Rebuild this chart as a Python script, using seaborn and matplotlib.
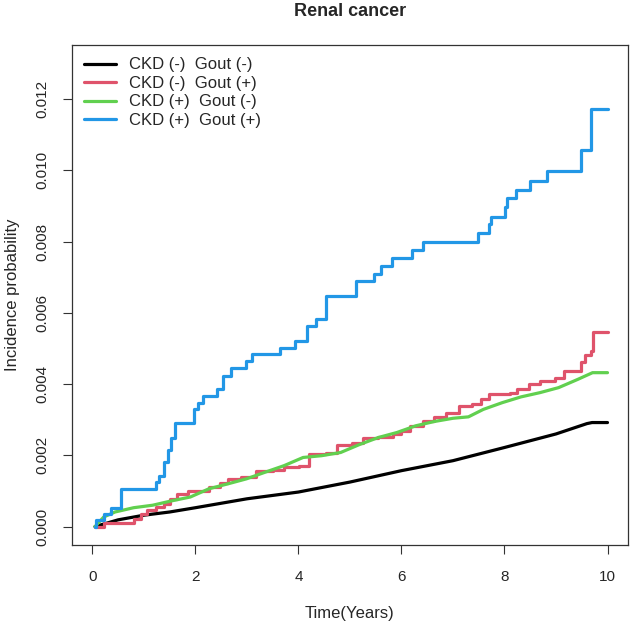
import pandas as pd
import matplotlib
matplotlib.use("Agg")
import matplotlib.pyplot as plt
import seaborn as sb

# cumulative incidence (time in years, probability)
labels = ['CKD (-)  Gout (-)', 'CKD (-)  Gout (+)', 'CKD (+)  Gout (-)', 'CKD (+)  Gout (+)']
colors = ['#000000', '#DF536B', '#61D04F', '#2297E6']

t_nn = [0.05, 0.5, 1, 1.5, 2, 3, 4, 5, 6, 7, 8, 9, 9.6, 9.7, 10]
p_nn = [0, 0.00019, 0.00032, 0.00041, 0.00053, 0.00078, 0.00097, 0.00125, 0.00157,
        0.00185, 0.00222, 0.0026, 0.00289, 0.00292, 0.00292]

t_np = [0.05, 0.22, 0.8, 0.95, 1.06, 1.24, 1.39, 1.5, 1.64, 1.86, 2.26, 2.48, 2.63, 2.88,
        3.18, 3.5, 3.72, 4.01, 4.2, 4.53, 4.74, 5.04, 5.26, 5.55, 5.84, 5.99, 6.17, 6.42,
        6.64, 6.86, 7.12, 7.37, 7.55, 7.70, 8.10, 8.25, 8.47, 8.69, 8.98, 9.16, 9.34, 9.49,
        9.56, 9.67, 9.71, 10.0]
p_np = [0, 0.0001, 0.0002, 0.00036, 0.00046, 0.00055, 0.00064, 0.00078, 0.00092, 0.00101,
        0.0011, 0.00122, 0.00134, 0.0014, 0.00157, 0.00159, 0.00167, 0.00171, 0.00204,
        0.00206, 0.0023, 0.00236, 0.0025, 0.00252, 0.00261, 0.00269, 0.00283, 0.00297,
        0.00308, 0.0032, 0.00339, 0.00345, 0.00357, 0.00373, 0.00376, 0.00385, 0.00399,
        0.00408, 0.00416, 0.00436, 0.00438, 0.00462, 0.00481, 0.00492, 0.00546, 0.00546]

t_pn = [0.05, 0.22, 0.44, 0.8, 1.17, 1.53, 1.9, 2.26, 2.63, 2.99, 3.36, 3.72, 4.09, 4.45,
        4.82, 5.18, 5.55, 5.91, 6.28, 6.64, 7.0, 7.3, 7.59, 7.96, 8.32, 8.69, 9.05, 9.42,
        9.71, 10.0]
p_pn = [0, 0.00027, 0.00041, 0.00053, 0.0006, 0.00072, 0.00083, 0.00106, 0.0012, 0.00134,
        0.00153, 0.00171, 0.00194, 0.00199, 0.00208, 0.0023, 0.0025, 0.00264, 0.00283,
        0.00295, 0.00304, 0.00308, 0.00329, 0.00348, 0.00364, 0.00376, 0.0039, 0.00413,
        0.00432, 0.00432]

t_pp = [0.05, 0.07, 0.22, 0.36, 0.55, 1.24, 1.30, 1.39, 1.46, 1.53, 1.61, 1.97, 2.04, 2.15,
        2.41, 2.53, 2.69, 2.99, 3.10, 3.65, 3.94, 4.16, 4.34, 4.53, 5.11, 5.47, 5.61, 5.82,
        6.20, 6.41, 7.48, 7.70, 7.74, 8.01, 8.05, 8.23, 8.50, 8.82, 9.49, 9.67, 10.0]
p_pp = [0, 0.00018, 0.00036, 0.00053, 0.00106, 0.00125, 0.00143, 0.0018, 0.00215, 0.0025,
        0.00292, 0.00329, 0.00348, 0.00366, 0.00385, 0.00422, 0.00444, 0.00464, 0.00483,
        0.00501, 0.00522, 0.00562, 0.00583, 0.00646, 0.00689, 0.0071, 0.00731, 0.00755,
        0.00775, 0.0080, 0.00823, 0.00848, 0.0087, 0.00897, 0.00921, 0.00946, 0.0097,
        0.00997, 0.01057, 0.01172, 0.01172]

sb.set_style("white")
plt.rcParams['font.family'] = ['Liberation Sans', 'DejaVu Sans']

fig = plt.figure(figsize=(6.3, 6.23), dpi=100)
ax = fig.add_axes([0.114, 0.125, 0.883, 0.803])

series = [(t_nn, p_nn, None), (t_np, p_np, 'steps-post'),
          (t_pn, p_pn, None), (t_pp, p_pp, 'steps-post')]
for (t, p, ds), lab, col in zip(series, labels, colors):
    df = pd.DataFrame({'time': t, 'prob': p})
    kw = {'drawstyle': ds} if ds else {}
    sb.lineplot(data=df, x='time', y='prob', color=col, linewidth=2.3,
                estimator=None, sort=False, label=lab, ax=ax, **kw)

ax.set_xlim(-0.4, 10.4)
ax.set_ylim(-0.00052, 0.01352)
ax.set_xticks([0, 2, 4, 6, 8, 10])
ax.set_yticks([0, 0.002, 0.004, 0.006, 0.008, 0.010, 0.012])
ax.set_yticklabels(['0.000', '0.002', '0.004', '0.006', '0.008', '0.010', '0.012'],
                   rotation=90, va='center')
ax.tick_params(axis='both', direction='out', length=6.5, width=0.8, color='#333333',
               labelsize=11, left=True, bottom=True)
ax.tick_params(axis='x', pad=11.5)
ax.tick_params(axis='y', pad=9.5)
for s in ax.spines.values():
    s.set_color('#333333')
    s.set_linewidth(0.9)

ax.set_xlabel('Time(Years)', fontsize=12, labelpad=16)
ax.set_ylabel('Incidence probability', fontsize=12, labelpad=11)
ax.set_title('Renal cancer', fontsize=13, fontweight='bold', pad=21)

ax.legend(loc='upper left', frameon=False, fontsize=12, handlelength=1.9,
          labelspacing=0.21, borderaxespad=0.35, handletextpad=0.8)

plt.savefig('out.png', dpi=100)
